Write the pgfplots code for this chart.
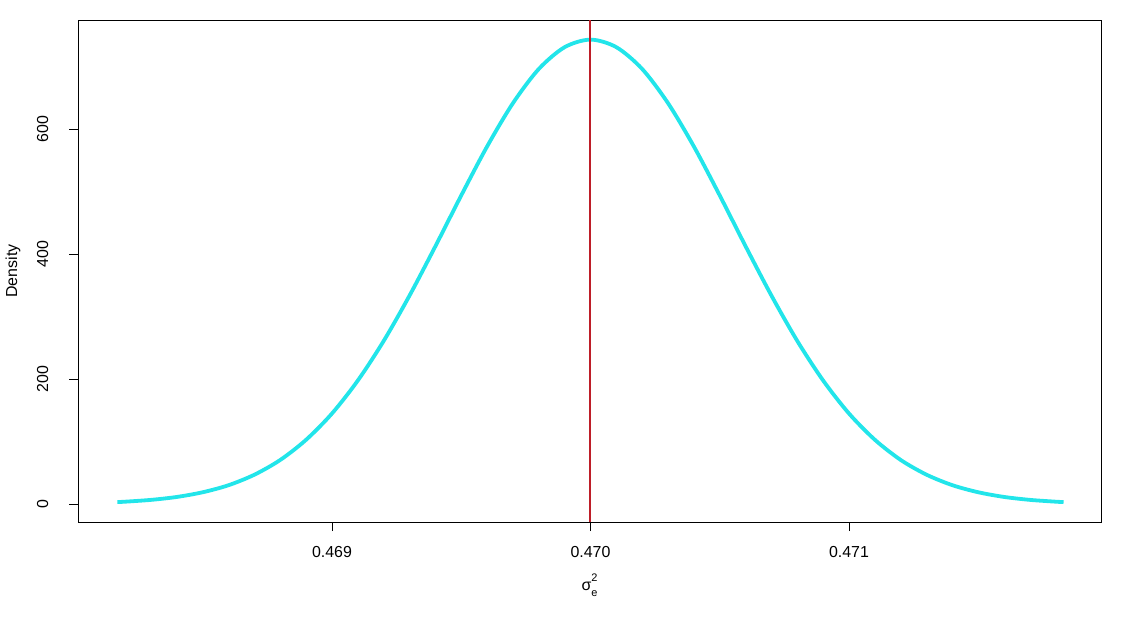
\documentclass[border=0pt]{standalone}
\usepackage{fontspec}
\setmainfont{Liberation Sans}
\usepackage{pgfplots}
\pgfplotsset{compat=1.18}

\definecolor{curvecyan}{RGB}{34,229,234}
\definecolor{meanred}{RGB}{190,30,40}

\begin{document}
\begin{tikzpicture}[font=\fontsize{16}{19}\selectfont]
\begin{axis}[
    name=ax,
    scale only axis,
    width=1023bp, height=502bp,
    xmin=0.4680174, xmax=0.471975,
    ymin=-28.8, ymax=774.4,
    axis line style={line width=0.9bp},
    every tick/.style={black, line width=0.9bp},
    tick align=outside,
    major tick length=9bp,
    xtick={0.469,0.470,0.471},
    xticklabels={0.469,0.470,0.471},
    ytick={0,200,400,600},
    yticklabels={0,200,400,600},
    xtick pos=bottom, ytick pos=left,
    scaled x ticks=false,
    /pgf/number format/assume math mode=true,
    tick label style={font=\fontsize{16}{19}\selectfont},
    xticklabel style={anchor=base, yshift=-26bp},
    yticklabel style={xshift=-21bp, rotate=90, anchor=base},
    label style={font=\fontsize{16}{19}\selectfont},
    ylabel={Density},
    y label style={at={(axis description cs:-0.0635,0.5)}, anchor=center, rotate=0},
    xlabel={σ\makebox[0pt][l]{\raisebox{9bp}{\fontsize{11}{11}\selectfont 2}}\raisebox{-6bp}{\fontsize{11}{11}\selectfont e}},
    x label style={at={(axis description cs:0.5,-0.1355)}, anchor=base},
]
% density curve of sigma_e^2
\addplot[curvecyan, line width=3.8bp, smooth] coordinates {
    (0.46817,3.1) (0.4682,3.7) (0.4683,6.6) (0.4684,11.3) (0.4685,18.8)
    (0.4686,30.1) (0.4687,46.9) (0.4688,70.5) (0.4689,102.8) (0.4690,144.8)
    (0.4691,197.6) (0.4692,260.9) (0.4693,333.5) (0.4694,412.4) (0.4695,493.7)
    (0.4696,572.0) (0.4697,641.3) (0.4698,696.0) (0.4699,730.9) (0.4700,743.0)
    (0.4701,730.9) (0.4702,696.0) (0.4703,641.3) (0.4704,572.0) (0.4705,493.7)
    (0.4706,412.4) (0.4707,333.5) (0.4708,260.9) (0.4709,197.6) (0.4710,144.8)
    (0.4711,102.8) (0.4712,70.5) (0.4713,46.9) (0.4714,30.1) (0.4715,18.8)
    (0.4716,11.3) (0.4717,6.6) (0.4718,3.7) (0.47183,3.1)
};
% vertical reference line
\addplot[meanred, line width=2bp] coordinates {(0.470,-28.8) (0.470,774.4)};
\end{axis}
\path ([shift={(-78bp,-98bp)}]ax.south west) rectangle ([shift={(39bp,20bp)}]ax.north east);
\end{tikzpicture}
\end{document}
